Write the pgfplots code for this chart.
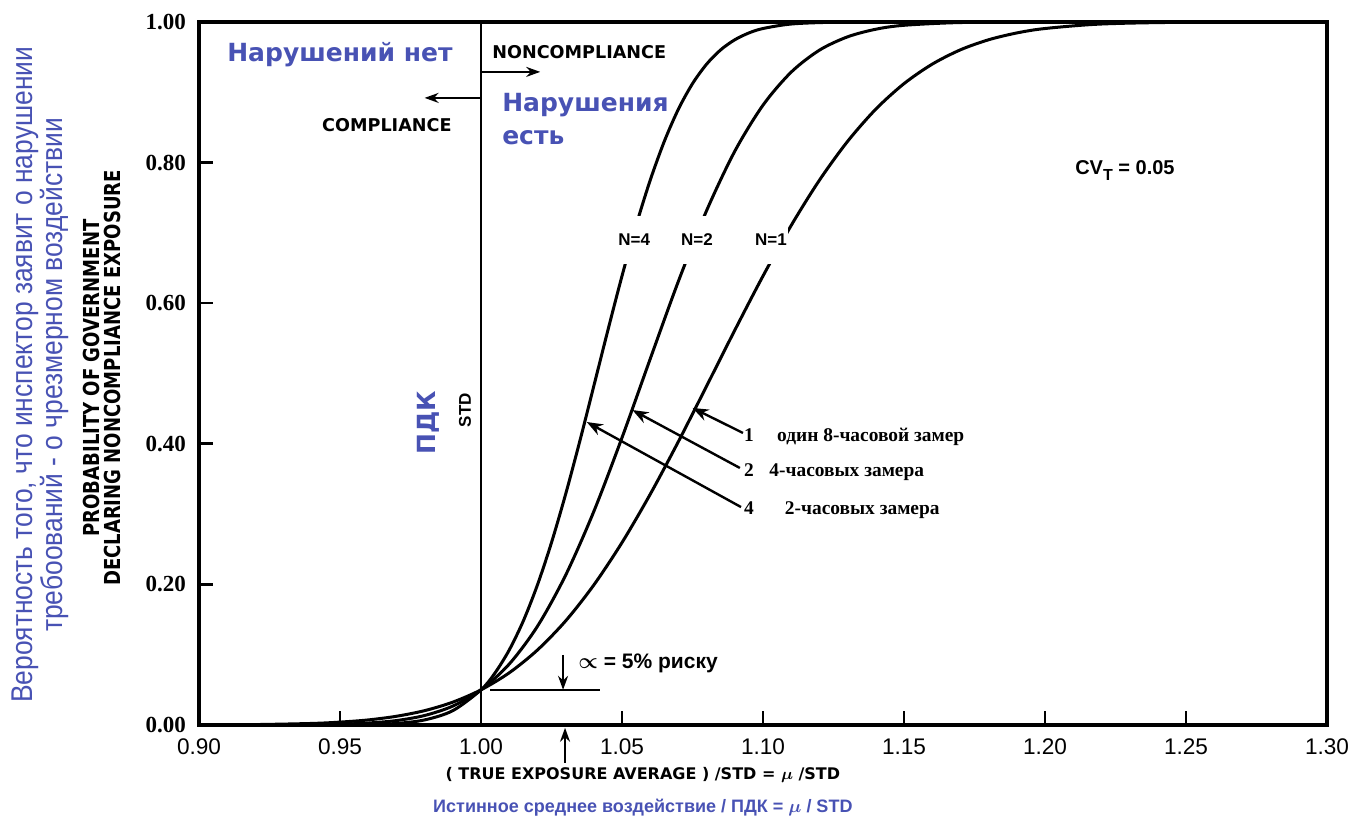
\documentclass[border=0pt]{standalone}
\usepackage{amsmath}
\usepackage{pgfplots}
\pgfplotsset{compat=1.18}
\usetikzlibrary{arrows.meta}
\usepackage{fontspec}
\setmainfont{Liberation Sans}
\newfontfamily\serifb{Liberation Serif}
\newfontfamily\dejavu{DejaVu Sans}
\newfontfamily\dejavucond[FakeStretch=0.82]{DejaVu Sans}
\newfontfamily\narrow[FakeStretch=0.88]{Liberation Sans}
\definecolor{ru}{RGB}{72,82,180}
\tikzset{txt/.style={inner sep=0pt}}

\pgfplotstableread{
x y
0.90 0.0001
0.92 0.0006
0.94 0.0022
0.95 0.0041
0.96 0.0072
0.97 0.0124
0.98 0.0204
0.99 0.0325
1.00 0.0500
1.01 0.0742
1.02 0.1066
1.03 0.1480
1.04 0.1991
1.05 0.2595
1.06 0.3282
1.07 0.4032
1.08 0.4821
1.09 0.5616
1.10 0.6387
1.11 0.7106
1.12 0.7749
1.13 0.8302
1.14 0.8760
1.15 0.9123
1.16 0.9400
1.17 0.9604
1.18 0.9747
1.19 0.9844
1.20 0.9907
1.22 0.9971
1.25 0.9996
1.30 1.0000
}\nOne

\pgfplotstableread{
x y
0.90 0.0000
0.92 0.0001
0.94 0.0004
0.95 0.0011
0.96 0.0028
0.97 0.0063
0.98 0.0135
0.99 0.0269
1.00 0.0500
1.01 0.0866
1.02 0.1403
1.03 0.2130
1.04 0.3037
1.05 0.4087
1.06 0.5207
1.07 0.6312
1.08 0.7317
1.09 0.8162
1.10 0.8817
1.11 0.9287
1.12 0.9599
1.13 0.9789
1.14 0.9897
1.15 0.9953
1.17 0.9992
1.20 1.0000
1.30 1.0000
}\nTwo

\pgfplotstableread{
x y
0.90 0.0000
0.94 0.0000
0.95 0.0001
0.96 0.0006
0.97 0.0022
0.98 0.0072
0.99 0.0204
1.000 0.0500
1.005 0.0742
1.010 0.1066
1.015 0.1480
1.020 0.1991
1.025 0.2595
1.030 0.3282
1.035 0.4032
1.040 0.4821
1.045 0.5616
1.050 0.6387
1.055 0.7106
1.060 0.7749
1.065 0.8302
1.070 0.8760
1.075 0.9123
1.080 0.9400
1.085 0.9604
1.090 0.9747
1.095 0.9844
1.100 0.9907
1.110 0.9971
1.125 0.9996
1.150 1.0000
1.300 1.0000
}\nFour

\begin{document}
\begin{tikzpicture}
\useasboundingbox (0,0) rectangle (676pt,411pt);
\begin{axis}[
  at={(99.5pt,48.5pt)}, anchor=south west,
  scale only axis, width=564pt, height=351.5pt,
  xmin=0.9, xmax=1.3, ymin=0, ymax=1,
  clip=false,
  axis line style={line width=2pt},
  tick align=inside, xtick pos=bottom, ytick pos=left,
  major tick length=7pt,
  tick style={line width=1.3pt, black},
  xtick={0.9,0.95,1.0,1.05,1.1,1.15,1.2,1.25,1.3},
  xticklabels={0.90,0.95,1.00,1.05,1.10,1.15,1.20,1.25,1.30},
  ytick={0,0.2,0.4,0.6,0.8,1},
  yticklabels={0.00,0.20,0.40,0.60,0.80,1.00},
  xticklabel style={font=\fontsize{11.3}{12}\selectfont, yshift=-3.5pt},
  yticklabel style={font=\serifb\bfseries\fontsize{11.5}{12}\selectfont, xshift=-3pt},
]
\addplot[line width=1.5pt, smooth] table[x=x,y=y] {\nOne};
\addplot[line width=1.5pt, smooth] table[x=x,y=y] {\nTwo};
\addplot[line width=1.5pt, smooth] table[x=x,y=y] {\nFour};

\draw[line width=1pt] (axis cs:1,0) -- (axis cs:1,1);

% compliance annotations
\node[txt, anchor=west, text=ru, font=\dejavu\bfseries\fontsize{12.5}{14}\selectfont] at (axis cs:0.9099,0.953) {Нарушений нет};
\node[txt, anchor=west, font=\dejavu\bfseries\fontsize{8.8}{9}\selectfont] at (axis cs:1.0039,0.957) {NONCOMPLIANCE};
\draw[line width=1pt, -{Stealth[length=7pt,width=5pt]}] (axis cs:1,0.929) -- (axis cs:1.021,0.929);
\draw[line width=1pt, -{Stealth[length=7pt,width=5pt]}] (axis cs:1,0.892) -- (axis cs:0.980,0.892);
\node[txt, anchor=east, font=\dejavu\bfseries\fontsize{8.8}{9}\selectfont] at (axis cs:0.9897,0.8535) {COMPLIANCE};
\node[txt, anchor=west, text=ru, font=\dejavu\bfseries\fontsize{12.5}{14}\selectfont] at (axis cs:1.0074,0.882) {Нарушения};
\node[txt, anchor=west, text=ru, font=\dejavu\bfseries\fontsize{12.5}{14}\selectfont] at (axis cs:1.0074,0.836) {есть};

\node[rotate=90, text=ru, font=\dejavu\bfseries\fontsize{12.5}{14}\selectfont] at (axis cs:0.9812,0.4296) {ПДК};
\node[rotate=90, font=\bfseries\fontsize{8.5}{9}\selectfont] at (axis cs:0.9943,0.448) {STD};

\node[txt, anchor=west, font=\bfseries\fontsize{10}{10}\selectfont] at (axis cs:1.2106,0.789) {CV\raisebox{-0.55ex}{\fontsize{8}{8}\selectfont T} = 0.05};

% N labels
\node[fill=white, inner xsep=0.5pt, minimum height=24pt, font=\bfseries\fontsize{8.5}{9}\selectfont] at (axis cs:1.0543,0.690) {N=4};
\node[fill=white, inner xsep=0.5pt, minimum height=24pt, font=\bfseries\fontsize{8.5}{9}\selectfont] at (axis cs:1.0766,0.690) {N=2};
\node[fill=white, inner xsep=0.5pt, minimum height=24pt, font=\bfseries\fontsize{8.5}{9}\selectfont] at (axis cs:1.1028,0.690) {N=1};

% pointer arrows
\draw[line width=1.2pt, -{Stealth[length=8pt,width=6pt]}] (axis cs:1.0929,0.4154) -- (axis cs:1.0750,0.451);
\draw[line width=1.2pt, -{Stealth[length=8pt,width=6pt]}] (axis cs:1.0918,0.3656) -- (axis cs:1.0537,0.448);
\draw[line width=1.2pt, -{Stealth[length=8pt,width=6pt]}] (axis cs:1.0922,0.310) -- (axis cs:1.0375,0.431);
\node[txt, anchor=west, font=\serifb\bfseries\fontsize{9.7}{10}\selectfont] at (axis cs:1.0932,0.4097) {1\hspace{1.2em}один 8-часовой замер};
\node[txt, anchor=west, font=\serifb\bfseries\fontsize{9.7}{10}\selectfont] at (axis cs:1.0932,0.360) {2\hspace{0.8em}4-часовых замера};
\node[txt, anchor=west, font=\serifb\bfseries\fontsize{9.7}{10}\selectfont] at (axis cs:1.0932,0.306) {4\hspace{1.6em}2-часовых замера};

% alpha
\draw[line width=0.9pt] (axis cs:1.0032,0.05) -- (axis cs:1.0422,0.05);
\draw[line width=1.1pt, -{Stealth[length=7pt,width=5pt]}] (axis cs:1.0291,0.0996) -- (axis cs:1.0291,0.05);
\node[txt, anchor=west, font=\bfseries\fontsize{10.5}{11}\selectfont] at (axis cs:1.0344,0.088) {$\boldsymbol{\propto}$ = 5\% риску};
\draw[line width=1.1pt, -{Stealth[length=7pt,width=5pt]}] (axis cs:1.0298,-0.054) -- (axis cs:1.0298,-0.004);

% axis titles
\node[font=\dejavu\bfseries\fontsize{8}{9}\selectfont] at (axis cs:1.0574,-0.0711) {( TRUE EXPOSURE AVERAGE ) /STD = $\boldsymbol{\mu}$ /STD};
\node[text=ru, font=\bfseries\fontsize{9}{10}\selectfont] at (axis cs:1.0574,-0.118) {Истинное среднее воздействие / ПДК = $\boldsymbol{\mu}$ / STD};
\node[rotate=90, align=center, font=\dejavucond\bfseries\fontsize{11}{10.5}\selectfont] at (axis cs:0.8656,0.4936) {PROBABILITY OF GOVERNMENT\\DECLARING NONCOMPLIANCE EXPOSURE};
\node[rotate=90, align=center, text=ru, font=\narrow\fontsize{15}{15}\selectfont] at (axis cs:0.8436,0.498) {Вероятность того, что инспектор заявит о нарушении\\требоований - о чрезмерном воздействии};
\end{axis}
\end{tikzpicture}
\end{document}
